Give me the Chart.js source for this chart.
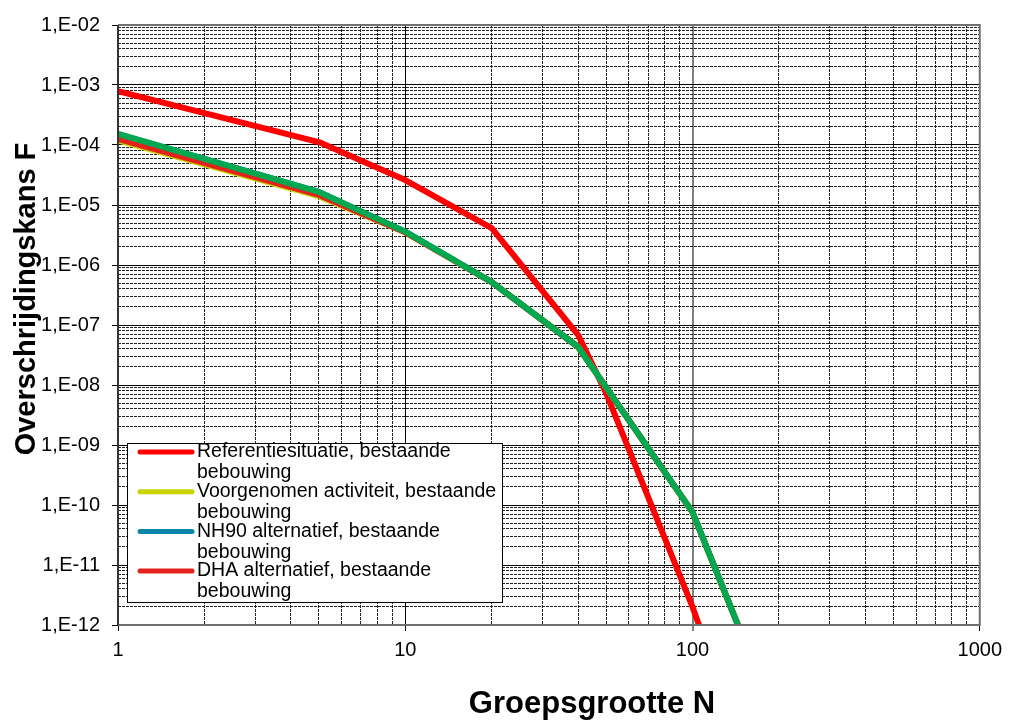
<!DOCTYPE html>
<html><head><meta charset="utf-8">
<script src="https://cdn.jsdelivr.net/npm/chart.js@4.4.0/dist/chart.umd.min.js"></script>
<style>html,body{margin:0;padding:0;background:#fff}#wrap{width:1009px;height:722px;position:relative}</style>
</head><body><div id="wrap"><canvas id="c"></canvas></div>
<script>
const xTickValues = [1, 10, 100, 1000];
const xTickLabels = ['1', '10', '100', '1000'];
const yTickValues = [1e-12, 1e-11, 1e-10, 1e-9, 1e-8, 1e-7, 1e-6, 1e-5, 1e-4, 1e-3, 1e-2];
const yTickLabels = ['1,E-12', '1,E-11', '1,E-10', '1,E-09', '1,E-08', '1,E-07', '1,E-06', '1,E-05', '1,E-04', '1,E-03', '1,E-02'];

const refX = [1, 5, 10, 20, 40, 50, 100, 200];
const refY = [7.9e-4, 1.12e-4, 2.6e-5, 4.1e-6, 6.8e-8, 7.4e-9, 2e-12, 2e-16];
const voorX = [1, 5, 10, 20, 40, 100, 200];
const voorY = [1.19e-4, 1.4e-5, 3.5e-6, 5.2e-7, 4.3e-8, 7.6e-11, 2e-14];
const nh90X = [1, 5, 10, 20, 40, 100, 200];
const nh90Y = [1.52e-4, 1.65e-5, 3.6e-6, 5.2e-7, 4.3e-8, 7.6e-11, 2e-14];
const dhaX = [1, 5, 10, 20, 40, 100, 200];
const dhaY = [1.26e-4, 1.47e-5, 3.5e-6, 5.2e-7, 4.3e-8, 7.6e-11, 2e-14];
const greenX = [1, 5, 10, 20, 40, 100, 200];
const greenY = [1.53e-4, 1.65e-5, 3.6e-6, 5.2e-7, 4.3e-8, 7.6e-11, 2e-14];

const legendLines = [
  ['Referentiesituatie, bestaande', 'bebouwing'],
  ['Voorgenomen activiteit, bestaande', 'bebouwing'],
  ['NH90 alternatief, bestaande', 'bebouwing'],
  ['DHA alternatief, bestaande', 'bebouwing']
];
const xTitle = 'Groepsgrootte N';
const yTitle = 'Overschrijdingskans F';

const pts = (xs, ys) => xs.map((x, i) => ({x: x, y: ys[i]}));
const FONT = "'Liberation Sans', Arial, sans-serif";

function isMajor(v) {
  const l = Math.log10(v);
  return Math.abs(l - Math.round(l)) < 1e-6;
}
function findLabel(v, vals, labels) {
  for (let i = 0; i < vals.length; i++) {
    if (Math.abs(v / vals[i] - 1) < 1e-6) return labels[i];
  }
  return '';
}
function logTicks(minExp, maxExp) {
  const t = [];
  for (let e = minExp; e < maxExp; e++) {
    for (let k = 1; k <= 9; k++) t.push({value: k * Math.pow(10, e)});
  }
  t.push({value: Math.pow(10, maxExp)});
  return t;
}

const mk = (label, xs, ys, color, order, inLegend) => ({
  label: label, data: pts(xs, ys), borderColor: color, backgroundColor: color,
  borderWidth: 6, pointRadius: 0, tension: 0, fill: false, clip: 0, order: order,
  borderJoinStyle: 'round', inLegend: inLegend
});

const datasets = [
  mk('Referentiesituatie, bestaande bebouwing', refX, refY, '#FF0000', 4, true),
  mk('Voorgenomen activiteit, bestaande bebouwing', voorX, voorY, '#C8D400', 2, true),
  mk('NH90 alternatief, bestaande bebouwing', nh90X, nh90Y, '#0A86A8', 3, true),
  mk('DHA alternatief, bestaande bebouwing', dhaX, dhaY, '#E3221B', 1, true),
  mk('', greenX, greenY, '#00A84F', 0, false)
];

const framePlugin = {
  id: 'frame',
  afterDatasetsDraw(chart) {
    const {ctx, chartArea: a} = chart;
    ctx.save();
    ctx.lineWidth = 2;
    ctx.strokeStyle = '#707070';
    ctx.beginPath();
    ctx.moveTo(a.left, a.top); ctx.lineTo(a.right, a.top);
    ctx.lineTo(a.right, a.bottom); ctx.lineTo(a.left, a.bottom);
    ctx.stroke();
    ctx.strokeStyle = '#333';
    ctx.beginPath();
    ctx.moveTo(a.left, a.top); ctx.lineTo(a.left, a.bottom);
    ctx.stroke();

    // legend box
    const bx = 127, by = 443, bw = 375, bh = 159;
    ctx.fillStyle = '#fff';
    ctx.fillRect(bx, by, bw, bh);
    ctx.lineWidth = 1;
    ctx.strokeStyle = '#000';
    ctx.strokeRect(bx + 0.5, by + 0.5, bw, bh);
    const items = chart.data.datasets.filter(d => d.inLegend);
    ctx.font = '19.5px ' + FONT;
    ctx.textBaseline = 'middle';
    ctx.textAlign = 'left';
    items.forEach((d, i) => {
      const y = 452 + i * 39.7;
      ctx.strokeStyle = d.borderColor;
      ctx.lineWidth = 5;
      ctx.lineCap = 'round';
      ctx.beginPath();
      ctx.moveTo(140, y); ctx.lineTo(192, y);
      ctx.stroke();
      ctx.fillStyle = '#000';
      const lines = legendLines[i];
      lines.forEach((t, j) => ctx.fillText(t, 197, y + j * 21));
    });

    // titles
    ctx.fillStyle = '#000';
    ctx.font = 'bold 31px ' + FONT;
    ctx.textAlign = 'center';
    ctx.textBaseline = 'alphabetic';
    ctx.fillText(xTitle, 592, 713);
    ctx.save();
    ctx.translate(35, 299);
    ctx.rotate(-Math.PI / 2);
    ctx.font = 'bold 29px ' + FONT;
    ctx.fillText(yTitle, 0, 0);
    ctx.restore();
    ctx.restore();
  }
};

const gridColor = (ctx, axis) => {
  const v = ctx.tick ? ctx.tick.value : 1;
  if (isMajor(v)) {
    if (axis === 'x' && Math.abs(v - 100) < 1e-6) return '#808080';
    return '#000';
  }
  return '#222';
};

new Chart(document.getElementById('c'), {
  type: 'line',
  data: {datasets: datasets},
  plugins: [framePlugin],
  options: {
    responsive: true, maintainAspectRatio: false, animation: false,
    layout: {padding: {left: 0, top: 25, right: 24, bottom: 0}},
    plugins: {legend: {display: false}, tooltip: {enabled: false}, title: {display: false}},
    scales: {
      x: {
        type: 'logarithmic', min: 1, max: 1000,
        afterBuildTicks: s => { s.ticks = logTicks(0, 3); },
        afterFit: s => { s.height = 97; },
        ticks: {
          autoSkip: false, maxRotation: 0, padding: 7, color: '#000',
          font: {family: FONT, size: 20},
          callback: v => findLabel(v, xTickValues, xTickLabels)
        },
        grid: {
          color: c => gridColor(c, 'x'),
          lineWidth: c => (c.tick && Math.abs(c.tick.value - 100) < 1e-6) ? 2 : 1,
          tickLength: 6,
          tickColor: c => (c.tick && isMajor(c.tick.value)) ? '#000' : 'rgba(0,0,0,0)',
          tickWidth: 1
        },
        border: {display: false, dash: c => (c.tick && isMajor(c.tick.value)) ? [] : [3, 1]}
      },
      y: {
        type: 'logarithmic', min: 1e-12, max: 1e-2,
        afterBuildTicks: s => { s.ticks = logTicks(-12, -2); },
        afterFit: s => { s.width = 118; },
        ticks: {
          autoSkip: false, padding: 12, color: '#000',
          font: {family: FONT, size: 20},
          callback: v => findLabel(v, yTickValues, yTickLabels)
        },
        grid: {
          color: c => gridColor(c, 'y'),
          lineWidth: 1,
          tickLength: 6,
          tickColor: c => (c.tick && isMajor(c.tick.value)) ? '#000' : 'rgba(0,0,0,0)',
          tickWidth: 1
        },
        border: {display: false, dash: c => (c.tick && isMajor(c.tick.value)) ? [] : [3, 1]}
      }
    }
  }
});
</script></body></html>
